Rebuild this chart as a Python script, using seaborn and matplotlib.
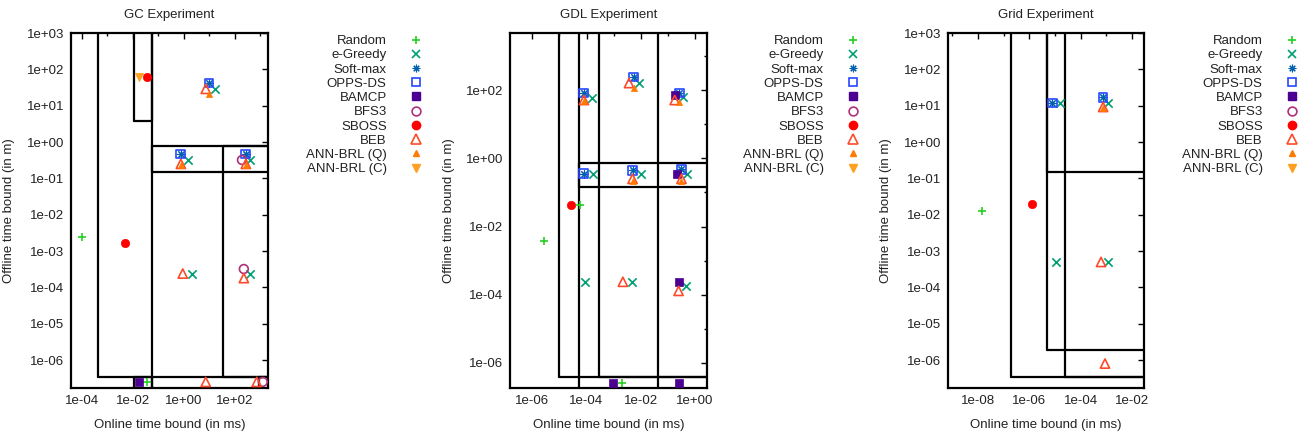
import numpy as np
import pandas as pd
import matplotlib
matplotlib.use('Agg')
import matplotlib.pyplot as plt
import seaborn as sns
from matplotlib.lines import Line2D
from matplotlib.ticker import FuncFormatter, NullFormatter

methods = ['Random', 'e-Greedy', 'Soft-max', 'OPPS-DS', 'BAMCP', 'BFS3',
           'SBOSS', 'BEB', 'ANN-BRL (Q)', 'ANN-BRL (C)']

# GC experiment
gc_method = ['Random', 'Random',
             'e-Greedy', 'e-Greedy', 'e-Greedy', 'e-Greedy', 'e-Greedy',
             'Soft-max', 'Soft-max', 'Soft-max',
             'OPPS-DS', 'OPPS-DS', 'OPPS-DS',
             'BAMCP',
             'BFS3', 'BFS3', 'BFS3',
             'SBOSS', 'SBOSS',
             'BEB', 'BEB', 'BEB', 'BEB', 'BEB', 'BEB', 'BEB',
             'ANN-BRL (Q)', 'ANN-BRL (Q)', 'ANN-BRL (Q)',
             'ANN-BRL (C)']
gc_online = [1e-4, 0.035,
             16.6, 1.45, 390, 2.0, 390,
             9.6, 0.76, 270,
             9.6, 0.76, 270,
             0.017,
             190, 225, 1250,
             0.035, 4.9e-3,
             7.2, 0.76, 270, 0.9, 225, 7.2, 720,
             9.6, 0.76, 270,
             0.017]
gc_offline = [2.4e-3, 2.5e-7,
              29, 0.32, 0.33, 2.4e-4, 2.3e-4,
              42, 0.47, 0.47,
              42, 0.47, 0.47,
              2.5e-7,
              0.32, 3.2e-4, 2.5e-7,
              62, 1.7e-3,
              29, 0.25, 0.25, 2.4e-4, 1.8e-4, 2.5e-7, 2.5e-7,
              21, 0.23, 0.23,
              62]
# region boxes (left, right, bottom, top); 1e12 / 1e-12 = open side
gc_box_x0 = [4.2e-4, 0.011, 0.056, 34, 0.056, 0.011, 870]
gc_box_x1 = [1e12, 0.056, 1e12, 1e12, 1e12, 0.056, 1e12]
gc_box_y0 = [3.5e-7, 3.8, 0.15, 3.5e-7, 1e-12, 1e-12, 1e-12]
gc_box_y1 = [1e12, 1e12, 0.78, 0.78, 1e12, 3.5e-7, 3.5e-7]

# GDL experiment
gdl_method = ['Random', 'Random', 'Random',
              'e-Greedy', 'e-Greedy', 'e-Greedy', 'e-Greedy', 'e-Greedy',
              'e-Greedy', 'e-Greedy', 'e-Greedy', 'e-Greedy',
              'Soft-max', 'Soft-max', 'Soft-max', 'Soft-max', 'Soft-max', 'Soft-max',
              'OPPS-DS', 'OPPS-DS', 'OPPS-DS', 'OPPS-DS', 'OPPS-DS', 'OPPS-DS',
              'BAMCP', 'BAMCP', 'BAMCP', 'BAMCP', 'BAMCP',
              'SBOSS',
              'BEB', 'BEB', 'BEB', 'BEB', 'BEB', 'BEB', 'BEB',
              'ANN-BRL (Q)', 'ANN-BRL (Q)', 'ANN-BRL (Q)', 'ANN-BRL (Q)', 'ANN-BRL (Q)']
gdl_online = [2.8e-6, 5.7e-5, 2e-3,
              9e-5, 4.8e-3, 0.46, 1.6e-4, 8.5e-3, 0.35, 1.7e-4, 0.01, 0.5,
              8e-5, 5.6e-3, 0.27, 8e-5, 5e-3, 0.32,
              8e-5, 5.6e-3, 0.27, 8e-5, 5e-3, 0.32,
              0.25, 9.5e-4, 0.27, 0.18, 0.21,
              2.7e-5,
              2.2e-3, 0.25, 8e-5, 3.7e-3, 0.18, 5e-3, 0.32,
              8e-5, 5.6e-3, 0.27, 5e-3, 0.32]
gdl_offline = [3.7e-3, 0.043, 2.6e-7,
               2.4e-4, 2.4e-4, 1.8e-4, 58, 160, 62, 0.35, 0.35, 0.35,
               82, 240, 82, 0.35, 0.45, 0.48,
               82, 240, 82, 0.35, 0.45, 0.48,
               2.4e-4, 2.6e-7, 2.6e-7, 71, 0.35,
               0.043,
               2.4e-4, 1.3e-4, 51, 160, 51, 0.25, 0.25,
               48, 115, 45, 0.22, 0.22]
gdl_box_x0 = [1e-5, 5.4e-5, 2.9e-4, 0.043, 5.4e-5]
gdl_box_x1 = [1e12, 1e12, 1e12, 1e12, 1e12]
gdl_box_y0 = [3.8e-7, 1e-12, 3.8e-7, 1e-12, 0.14]
gdl_box_y1 = [1e12, 1e12, 1e12, 1e12, 0.72]

# Grid experiment
grid_method = ['Random',
               'e-Greedy', 'e-Greedy', 'e-Greedy', 'e-Greedy',
               'Soft-max', 'Soft-max',
               'OPPS-DS', 'OPPS-DS',
               'SBOSS',
               'BEB', 'BEB', 'BEB',
               'ANN-BRL (Q)']
grid_online = [1.4e-8,
               1.1e-5, 1.2e-3, 1.6e-5, 1.2e-3,
               7.8e-6, 7.6e-4,
               7.8e-6, 7.6e-4,
               1.3e-6,
               6.3e-4, 9e-4, 7.6e-4,
               7.6e-4]
grid_offline = [0.0126,
                5e-4, 5e-4, 11.8, 11.8,
                11.8, 17,
                11.8, 17,
                0.0195,
                5e-4, 8e-7, 9.2,
                8.5]
grid_box_x0 = [1.9e-7, 5e-6, 2.5e-5, 5e-6]
grid_box_x1 = [1e12, 1e12, 1e12, 1e12]
grid_box_y0 = [3.5e-7, 1.9e-6, 3.5e-7, 0.15]
grid_box_y1 = [1e12, 1e12, 1e12, 1e12]

colors = {'Random': '#22d022', 'e-Greedy': '#009e73', 'Soft-max': '#0060ad',
          'OPPS-DS': '#2848ff', 'BAMCP': '#4b0092', 'BFS3': '#b0307a',
          'SBOSS': '#ff0000', 'BEB': '#ff4a2a', 'ANN-BRL (Q)': '#ff7a00',
          'ANN-BRL (C)': '#ffa020'}
markers = {'Random': '+', 'e-Greedy': 'x', 'Soft-max': (8, 2, 0), 'OPPS-DS': 's',
           'BAMCP': 's', 'BFS3': 'o', 'SBOSS': 'o', 'BEB': '^',
           'ANN-BRL (Q)': '^', 'ANN-BRL (C)': 'v'}
hollow = {'OPPS-DS', 'BFS3', 'BEB'}
sizes = {'Random': 40, 'e-Greedy': 36, 'Soft-max': 30, 'OPPS-DS': 40, 'BAMCP': 34,
         'BFS3': 40, 'SBOSS': 36, 'BEB': 44, 'ANN-BRL (Q)': 20, 'ANN-BRL (C)': 36}

sns.set_style('white')
plt.rcParams['font.family'] = ['Liberation Sans', 'DejaVu Sans']
plt.rcParams['font.size'] = 9.5
plt.rcParams['text.color'] = '#222222'
plt.rcParams['axes.labelcolor'] = '#222222'
plt.rcParams['xtick.color'] = 'black'
plt.rcParams['ytick.color'] = 'black'
plt.rcParams['xtick.labelcolor'] = '#222222'
plt.rcParams['ytick.labelcolor'] = '#222222'

FS = 9.5
sci = FuncFormatter(lambda v, p: f'{v:.0e}')


def draw_panel(ax, method, online, offline, box_x0, box_x1, box_y0, box_y1,
               title, xlim, ylim, xmajor, xminor, ymajor, yminor):
    ax.set_xscale('log')
    ax.set_yscale('log')
    df = pd.DataFrame({'method': method, 'online': online, 'offline': offline})

    for x0, x1, y0, y1 in zip(box_x0, box_x1, box_y0, box_y1):
        ax.plot([x0, x0, x1, x1, x0], [y0, y1, y1, y0, y0],
                color='black', lw=1.6, zorder=1)

    for m in methods:
        sub = df[df['method'] == m]
        if sub.empty:
            continue
        c = colors[m]
        if m in hollow:
            sns.scatterplot(data=sub, x='online', y='offline', ax=ax, marker=markers[m],
                            s=sizes[m], color=c, facecolor='none', edgecolor=c,
                            linewidth=1.2, zorder=3, clip_on=False)
        elif markers[m] in ('+', 'x') or isinstance(markers[m], tuple):
            lw = 0.8 if isinstance(markers[m], tuple) else 1.2
            sns.scatterplot(data=sub, x='online', y='offline', ax=ax, marker=markers[m],
                            s=sizes[m], color=c, linewidth=lw, zorder=3, clip_on=False)
        else:
            sns.scatterplot(data=sub, x='online', y='offline', ax=ax, marker=markers[m],
                            s=sizes[m], color=c, edgecolor=c, linewidth=0.5,
                            zorder=3, clip_on=False)

    ax.set_xlim(xlim)
    ax.set_ylim(ylim)
    ax.set_xticks(xmajor)
    ax.set_xticks(xminor, minor=True)
    ax.set_yticks(ymajor)
    ax.set_yticks(yminor, minor=True)
    ax.xaxis.set_major_formatter(sci)
    ax.yaxis.set_major_formatter(sci)
    ax.xaxis.set_minor_formatter(NullFormatter())
    ax.yaxis.set_minor_formatter(NullFormatter())
    ax.tick_params(which='both', direction='in', top=True, right=True, width=1.0)
    ax.tick_params(which='major', length=4, pad=5, labelsize=FS)
    ax.tick_params(which='minor', length=2)
    for sp in ax.spines.values():
        sp.set_visible(True)
        sp.set_color('black')
        sp.set_linewidth(1.6)
    ax.set_title(title, fontsize=FS, pad=11)
    ax.set_xlabel('Online time bound (in ms)', fontsize=FS, labelpad=9)
    ax.set_ylabel('Offline time bound (in m)', fontsize=FS, labelpad=8)


def legend_handles():
    hs = []
    for m in methods:
        c = colors[m]
        ms = np.sqrt(sizes[m])
        if m in hollow:
            h = Line2D([], [], ls='none', marker=markers[m], ms=ms, mfc='none', mec=c, mew=1.2)
        elif isinstance(markers[m], tuple):
            h = Line2D([], [], ls='none', marker=markers[m], ms=ms, color=c, mew=0.8)
        elif markers[m] in ('+', 'x'):
            h = Line2D([], [], ls='none', marker=markers[m], ms=ms, color=c, mew=1.2)
        else:
            h = Line2D([], [], ls='none', marker=markers[m], ms=ms, mfc=c, mec=c)
        hs.append(h)
    return hs


fig = plt.figure(figsize=(13.02, 4.32), dpi=100)
fig.patch.set_facecolor('white')

ax1 = fig.add_axes([71 / 1302, 44 / 432, 197 / 1302, 355 / 432])
ax2 = fig.add_axes([510 / 1302, 44 / 432, 197 / 1302, 355 / 432])
ax3 = fig.add_axes([948 / 1302, 44 / 432, 196 / 1302, 355 / 432])

draw_panel(ax1, gc_method, gc_online, gc_offline,
           gc_box_x0, gc_box_x1, gc_box_y0, gc_box_y1, 'GC Experiment',
           (3.7e-5, 2e3), (1.7e-7, 1e3),
           [1e-4, 1e-2, 1e0, 1e2], [1e-3, 1e-1, 1e1, 1e3],
           [1e-6, 1e-5, 1e-4, 1e-3, 1e-2, 1e-1, 1e0, 1e1, 1e2, 1e3], [])
draw_panel(ax2, gdl_method, gdl_online, gdl_offline,
           gdl_box_x0, gdl_box_x1, gdl_box_y0, gdl_box_y1, 'GDL Experiment',
           (1.5e-7, 2.8), (1.85e-7, 4.7e3),
           [1e-6, 1e-4, 1e-2, 1e0], [1e-5, 1e-3, 1e-1],
           [1e-6, 1e-4, 1e-2, 1e0, 1e2], [1e-5, 1e-3, 1e-1, 1e1, 1e3])
draw_panel(ax3, grid_method, grid_online, grid_offline,
           grid_box_x0, grid_box_x1, grid_box_y0, grid_box_y1, 'Grid Experiment',
           (6.7e-10, 0.03), (1.7e-7, 1e3),
           [1e-8, 1e-6, 1e-4, 1e-2], [1e-9, 1e-7, 1e-5, 1e-3],
           [1e-6, 1e-5, 1e-4, 1e-3, 1e-2, 1e-1, 1e0, 1e1, 1e2, 1e3], [])

for ax, right in [(ax1, 423), (ax2, 860), (ax3, 1299)]:
    ax.legend(handles=legend_handles(), labels=methods, loc='upper right',
              bbox_to_anchor=(right / 1302, 1 - 35 / 432), bbox_transform=fig.transFigure,
              markerfirst=False, frameon=False, fontsize=FS, borderpad=0,
              borderaxespad=0, handlelength=1.0, handletextpad=1.75, labelspacing=0.15)

fig.savefig('out.png', dpi=100, facecolor='white')
